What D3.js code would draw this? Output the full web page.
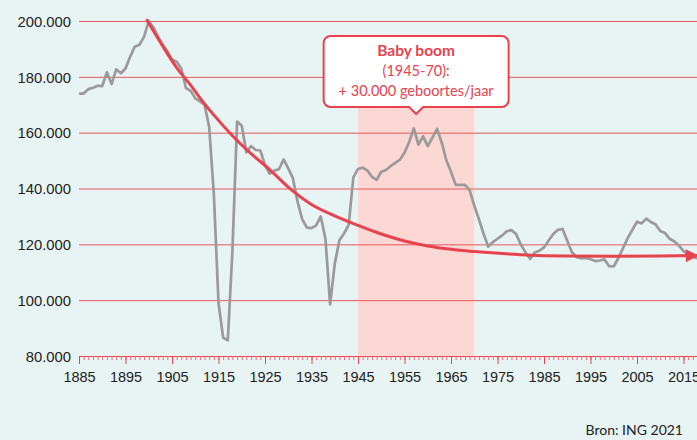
<!DOCTYPE html>
<html>
<head>
<meta charset="utf-8">
<script src="https://cdn.jsdelivr.net/npm/d3@7"></script>
<style>
  html, body { margin: 0; padding: 0; background: #e8f4f4; }
  svg { display: block; font-family: Lato, "Open Sans", sans-serif; }
</style>
</head>
<body>
<script>
// births per year (thousands)
const years = d3.range(1885, 2019);
const births = [
  174.0, 174.0, 175.6, 176.1, 176.8, 176.7, 181.6, 177.4, 182.7, 181.3,   // 1885-1894
  183.0, 187.2, 190.8, 191.5, 194.4, 200.0, 197.7, 194.4, 191.6, 189.2,   // 1895-1904
  186.2, 185.4, 183.0, 176.0, 175.0, 172.3, 171.2, 170.0, 162.0, 138.0,   // 1905-1914
  99.0, 86.6, 85.6, 118.0, 164.0, 162.5, 152.9, 155.2, 153.8, 153.6,      // 1915-1924
  148.4, 145.3, 146.4, 146.9, 150.4, 147.2, 143.7, 135.3, 129.0, 126.0,   // 1925-1934
  125.8, 126.8, 130.0, 122.0, 98.5, 113.0, 121.5, 123.9, 127.0, 144.0,    // 1935-1944
  147.0, 147.5, 146.5, 144.2, 143.1, 146.0, 146.6, 148.0, 149.2, 150.3,   // 1945-1954
  152.8, 156.6, 161.5, 155.7, 158.7, 155.2, 158.2, 161.3, 156.5, 150.1,   // 1955-1964
  146.0, 141.3, 141.3, 141.3, 139.4, 133.9, 129.0, 123.8, 119.2, 120.8,   // 1965-1974
  122.0, 123.2, 124.7, 125.1, 123.7, 120.0, 117.2, 114.8, 117.1, 117.7,   // 1975-1984
  118.9, 121.4, 123.7, 125.2, 125.5, 121.3, 117.2, 115.4, 115.0, 115.1,   // 1985-1994
  114.7, 114.0, 114.2, 114.6, 112.2, 112.1, 115.1, 118.7, 122.2, 125.2,   // 1995-2004
  128.1, 127.5, 129.2, 128.0, 127.1, 124.8, 124.1, 122.0, 121.1, 119.6,   // 2005-2014
  117.6, 116.5, 115.5, 115.0                                              // 2015-2018
];

// trend arrow drawn over the series (thousands)
const trendYears = [1899.5, 1903, 1906, 1909, 1912, 1915, 1918, 1922, 1926, 1930, 1935, 1940,
                    1945, 1950, 1955, 1960, 1965, 1970, 1980, 1990, 2000, 2010, 2018];
const trendValues = [200.6, 191.0, 183.3, 177.0, 170.3, 164.4, 158.9, 152.5, 146.8, 140.5, 134.3, 130.2,
                     126.8, 123.7, 121.2, 119.4, 118.2, 117.4, 116.3, 115.8, 115.7, 115.8, 116.0];

const yTicks = [80, 100, 120, 140, 160, 180, 200];
const xLabelYears = d3.range(1885, 2016, 10);
const boom = [1945, 1970];
const boomTitle = "Baby boom";
const boomLines = ["(1945-70):", "+ 30.000 geboortes/jaar"];
const source = "Bron: ING 2021";

const W = 697, H = 440;
const margin = { left: 79, top: 21, bottom: 84 };
const red = "#e8424f", grid = "#e9565f", grey = "#9a9a9a";

const nl = d3.formatLocale({ decimal: ",", thousands: ".", grouping: [3], currency: ["€", ""] });
const fmt = nl.format(",.0f");

const svg = d3.select("body").append("svg")
    .attr("width", W)
    .attr("height", H);

svg.append("rect").attr("width", W).attr("height", H).attr("fill", "#e8f4f4");

const x = d3.scaleLinear().domain([1885, 2018]).range([margin.left, margin.left + 133 * 4.65]);
const y = d3.scaleLinear().domain([80, 200]).range([H - margin.bottom, margin.top]);

// baby boom band
svg.append("rect")
    .attr("x", x(boom[0]))
    .attr("width", x(boom[1]) - x(boom[0]))
    .attr("y", y(190))
    .attr("height", y(80) - y(190))
    .attr("fill", "#fcd8d4");

// grid + y labels
const yAxis = svg.append("g")
    .attr("transform", `translate(${margin.left},0)`)
    .call(d3.axisLeft(y).tickValues(yTicks).tickSize(-(W - margin.left)).tickPadding(8)
      .tickFormat(d => fmt(d * 1000)));
yAxis.select(".domain").remove();
yAxis.selectAll(".tick line").attr("stroke", grid).attr("stroke-width", 1)
    .filter(d => d === 80).remove();
yAxis.selectAll(".tick text")
    .attr("fill", "#222")
    .style("font-size", "14.8px")
    .attr("dy", "0.36em");

// x axis: minor ticks every year, major every 10
const xMinor = svg.append("g")
    .attr("transform", `translate(0,${y(80)})`)
    .call(d3.axisBottom(x).tickValues(years).tickSize(4).tickFormat(""));
xMinor.select(".domain").attr("stroke", red);
xMinor.selectAll(".tick line").attr("stroke", "#ec6d76");

const xMajor = svg.append("g")
    .attr("transform", `translate(0,${y(80)})`)
    .call(d3.axisBottom(x).tickValues(xLabelYears).tickSize(8).tickPadding(8).tickFormat(d3.format("d")));
xMajor.select(".domain").remove();
xMajor.selectAll(".tick line").attr("stroke", red);
xMajor.selectAll(".tick text").attr("fill", "#222").style("font-size", "14.5px");

// births series
const line = d3.line()
    .x((d, i) => x(years[i]))
    .y(d => y(d));

svg.append("path")
    .datum(births)
    .attr("fill", "none")
    .attr("stroke", grey)
    .attr("stroke-width", 2.7)
    .attr("stroke-linejoin", "round")
    .attr("d", line);

// trend arrow
svg.append("defs").append("marker")
    .attr("id", "arrow")
    .attr("viewBox", "0 0 10 10")
    .attr("refX", 9)
    .attr("refY", 5)
    .attr("markerUnits", "userSpaceOnUse")
    .attr("markerWidth", 14)
    .attr("markerHeight", 13)
    .attr("orient", "auto")
  .append("path")
    .attr("d", "M0,0L10,5L0,10Z")
    .attr("fill", red);

svg.append("path")
    .datum(trendValues)
    .attr("fill", "none")
    .attr("stroke", red)
    .attr("stroke-width", 3)
    .attr("marker-end", "url(#arrow)")
    .attr("d", d3.line().curve(d3.curveMonotoneX)
      .x((d, i) => x(trendYears[i]))
      .y(d => y(d)));

// callout
const cx = x((boom[0] + boom[1]) / 2);
const bw = 185, bh = 71, r = 7, boxTop = 36, ph = 7, pw = 7;
const bl = cx - bw / 2, br = cx + bw / 2, bb = boxTop + bh;
const p = d3.path();
p.moveTo(bl + r, boxTop);
p.lineTo(br - r, boxTop);
p.arcTo(br, boxTop, br, boxTop + r, r);
p.lineTo(br, bb - r);
p.arcTo(br, bb, br - r, bb, r);
p.lineTo(cx + pw, bb);
p.lineTo(cx, bb + ph);
p.lineTo(cx - pw, bb);
p.lineTo(bl + r, bb);
p.arcTo(bl, bb, bl, bb - r, r);
p.lineTo(bl, boxTop + r);
p.arcTo(bl, boxTop, bl + r, boxTop, r);
p.closePath();

svg.append("path")
    .attr("d", p.toString())
    .attr("fill", "#fff")
    .attr("stroke", red)
    .attr("stroke-width", 2);

svg.append("text")
    .attr("x", cx).attr("y", 56)
    .attr("text-anchor", "middle")
    .attr("fill", red)
    .style("font-size", "15.5px")
    .style("font-weight", "bold")
    .text(boomTitle);

svg.selectAll(".boomline")
    .data(boomLines)
    .enter().append("text")
    .attr("x", cx)
    .attr("y", (d, i) => 76 + i * 19.5)
    .attr("text-anchor", "middle")
    .attr("fill", red)
    .style("font-size", "14.5px")
    .text(d => d);

svg.append("text")
    .attr("x", 683).attr("y", 435)
    .attr("text-anchor", "end")
    .attr("fill", "#222")
    .style("font-size", "14px")
    .text(source);
</script>
</body>
</html>
